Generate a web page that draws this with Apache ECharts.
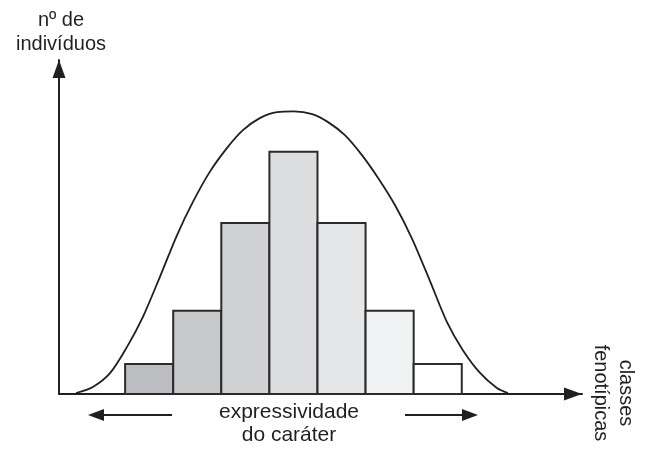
<!DOCTYPE html>
<html>
<head>
<meta charset="utf-8">
<script src="https://cdn.jsdelivr.net/npm/echarts@6/dist/echarts.min.js"></script>
<style>
html,body{margin:0;padding:0;background:#fff;}
#chart{width:649px;height:449px;}
</style>
</head>
<body>
<div id="chart"></div>
<script>
// phenotypic classes (1..7) and their number of individuals (relative units)
var classes = [1, 2, 3, 4, 5, 6, 7];
var counts = [9, 24.9, 51.2, 72.5, 51.2, 24.9, 9];
var barColors = ['#bcbdc0', '#c8c9cb', '#d1d2d4', '#dcdddf', '#e5e6e8', '#f1f2f3', '#ffffff'];
// continuous normal curve
var curveX = [-0.52, -0.17, 0.19, 0.54, 0.87, 1.23, 1.58, 1.91, 2.26, 2.62, 2.95, 3.30, 3.66, 4.01, 4.39, 4.72, 5.07, 5.42, 5.76, 6.11, 6.46, 6.84, 7.19, 7.52, 7.88, 8.23, 8.46];
var curveY = [0.3, 2.1, 6.3, 14.1, 23.1, 35.3, 47.6, 57.5, 66.5, 73.7, 79.0, 82.6, 84.4, 84.6, 83.8, 81.4, 77.5, 71.6, 64.7, 56.6, 46.7, 33.8, 21.6, 13.2, 6.3, 1.8, 0.3];
var yTitle = 'nº de\nindivíduos';
var xTitle = 'classes\nfenotípicas';
var bottomLabel = 'expressividade\ndo caráter';

var ink = '#231f20';
var font = '"Liberation Sans", Arial, Helvetica, sans-serif';
var chart = echarts.init(document.getElementById('chart'), null, {renderer: 'canvas'});

var curveData = curveX.map(function (x, i) { return [x, curveY[i]]; });
var barData = classes.map(function (c, i) { return [c, counts[i], i]; });

chart.setOption({
  animation: false,
  backgroundColor: '#ffffff',
  grid: {left: 59, right: 67, top: 60, bottom: 55},
  xAxis: {
    type: 'value', min: -0.875, max: 10,
    axisLine: {show: true, onZero: false, lineStyle: {color: ink, width: 2}, symbol: ['none', 'triangle'], symbolSize: [13, 18], symbolOffset: [0, -9]},
    axisTick: {show: false}, axisLabel: {show: false}, splitLine: {show: false}
  },
  yAxis: {
    type: 'value', min: 0, max: 100,
    axisLine: {show: true, onZero: false, lineStyle: {color: ink, width: 2}, symbol: ['none', 'triangle'], symbolSize: [13, 18], symbolOffset: [0, -9]},
    axisTick: {show: false}, axisLabel: {show: false}, splitLine: {show: false}
  },
  series: [
    {
      type: 'custom',
      data: barData,
      renderItem: function (params, api) {
        var c = api.value(0), h = api.value(1), idx = api.value(2);
        var p1 = api.coord([c - 0.5, h]);
        var p2 = api.coord([c + 0.5, 0]);
        return {
          type: 'rect',
          shape: {x: p1[0], y: p1[1], width: p2[0] - p1[0], height: p2[1] - p1[1]},
          style: {fill: barColors[idx], stroke: '#2b2b2b', lineWidth: 2}
        };
      },
      z: 2
    },
    {
      type: 'line',
      data: curveData,
      smooth: 0.3,
      showSymbol: false,
      lineStyle: {color: ink, width: 1.8},
      z: 3
    }
  ],
  graphic: [
    {type: 'text', style: {text: yTitle, x: 61, y: 8, align: 'center', font: '20px ' + font, fill: ink, lineHeight: 24}},
    {type: 'text', style: {text: bottomLabel, x: 289, y: 401, align: 'center', font: '21px ' + font, fill: ink, lineHeight: 23}},
    {type: 'text', rotation: -Math.PI / 2, x: 613, y: 393, style: {text: xTitle, x: 0, y: 0, align: 'center', verticalAlign: 'middle', font: '20px ' + font, fill: ink, lineHeight: 25}},
    {type: 'line', shape: {x1: 100, y1: 415, x2: 172, y2: 415}, style: {stroke: ink, lineWidth: 2}},
    {type: 'polygon', shape: {points: [[88, 415], [104, 409], [104, 421]]}, style: {fill: ink}},
    {type: 'line', shape: {x1: 405, y1: 415, x2: 466, y2: 415}, style: {stroke: ink, lineWidth: 2}},
    {type: 'polygon', shape: {points: [[478, 415], [462, 409], [462, 421]]}, style: {fill: ink}}
  ]
});
</script>
</body>
</html>
